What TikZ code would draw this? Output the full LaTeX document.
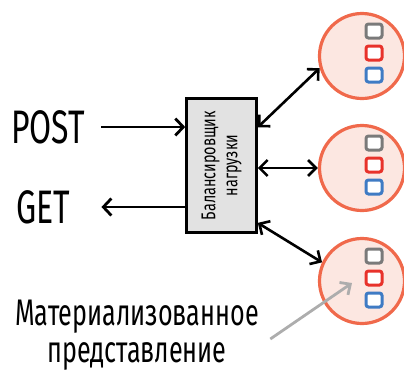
\documentclass[tikz,border=0pt]{standalone}
\usepackage{fontspec}
\setmainfont{Fira Sans}[FakeStretch=0.68]
\newfontfamily\boxfont{Fira Sans}[FakeStretch=0.72]
\usetikzlibrary{arrows.meta,calc,positioning}

\definecolor{ringred}{HTML}{F0694B}
\definecolor{ringfill}{HTML}{FCE7E1}
\definecolor{boxgray}{HTML}{E2E2E2}
\definecolor{sqgray}{HTML}{7A7A7A}
\definecolor{sqred}{HTML}{E8322B}
\definecolor{sqblue}{HTML}{3F7BC4}
\definecolor{viewgray}{HTML}{ADADAD}

\tikzset{
  ring/.style={circle, draw=ringred, fill=ringfill, line width=3.2pt, minimum size=85pt, inner sep=0pt},
  sq/.style={rectangle, rounded corners=2.5pt, line width=3pt, fill=white, minimum width=16pt, minimum height=14pt, inner sep=0pt},
  lbbox/.style={rectangle, draw, fill=boxgray, line width=2.6pt, minimum width=70pt, minimum height=134pt},
  onearrow/.style={line width=2.8pt, -{Straight Barb[length=8pt,width=17pt]}},
  dblarrow/.style={line width=2.6pt, {Straight Barb[length=8pt,width=16pt]}-{Straight Barb[length=8pt,width=16pt]}},
  viewarrow/.style={line width=2.8pt, draw=viewgray, -{Straight Barb[length=8pt,width=15pt]}},
  big/.style={font=\fontsize{47}{50}\selectfont},
}

\begin{document}
\begin{tikzpicture}[x=1pt,y=-1pt]
    \useasboundingbox (0,0) rectangle (404,373);

    % Load balancer
    \node[lbbox] (lb) at (221.5,165.5) {};
    \node[rotate=90, align=center, font=\boxfont\fontsize{20}{22}\selectfont] (lbtext) at (lb) {Балансировщик\\нагрузки};

    % Replicas with materialized views
    \foreach \i/\y in {1/56,2/168,3/281} {
        \node[ring] (c\i) at (362,\y) {};
        \node[sq, draw=sqred] (r\i) at ($(c\i)+(12,-3)$) {};
        \node[sq, draw=sqgray, above=5pt of r\i] (g\i) {};
        \node[sq, draw=sqblue, below=5pt of r\i] (b\i) {};
    }

    % Requests
    \node[big] (post) at (48,127) {POST};
    \node[big] (get) at (43,207) {GET};

    \coordinate (posttail) at ([xshift=13pt]post.east);
    \coordinate (gettip) at ([xshift=28pt]get.east);
    \draw[onearrow] (posttail) -- (posttail -| lb.west);
    \draw[onearrow] (gettip -| lb.west) -- (gettip);

    % Links to replicas
    \draw[dblarrow] ($(lb.north east)!0.22!(lb.south east)$) -- (c1.196);
    \draw[dblarrow] (lb.east |- c2) -- (c2.west);
    \draw[dblarrow] ($(lb.north east)!0.92!(lb.south east)$) -- (c3.155);

    % Materialized view label
    \node[align=center, font=\fontsize{37}{37}\selectfont] (view) at (137,335) {Материализованное\\представление};
    \coordinate (vtip) at ($(c3)+(-10,2)$);
    \draw[viewarrow] ([xshift=8pt,yshift=-4pt]view.east) -- (vtip);

\end{tikzpicture}
\end{document}
